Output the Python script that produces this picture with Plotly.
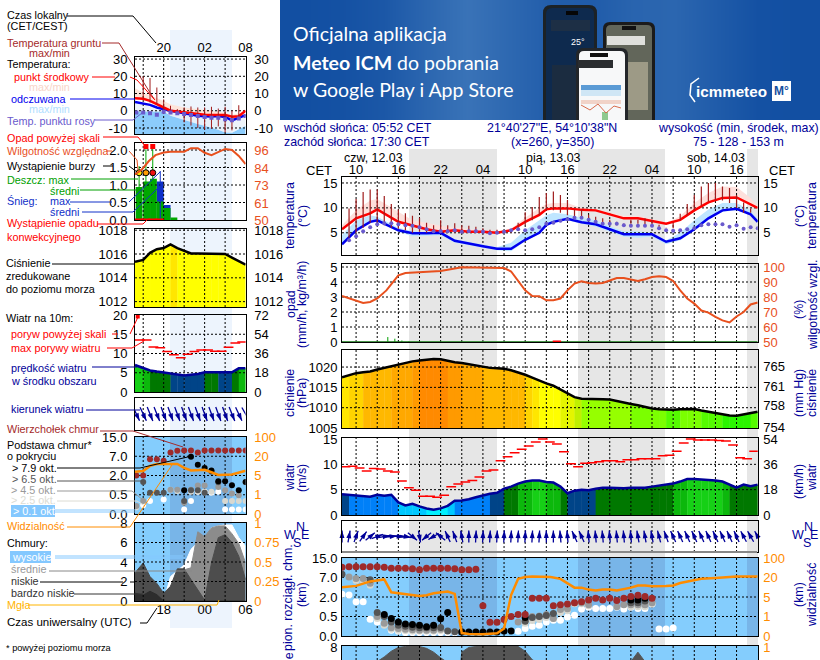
import math
import numpy as np
import plotly.graph_objects as go

W, H = 820, 660

# ---- main chart, hours counted from 00:00 on 12.03 (CET)
temp_hours = [8, 10, 12, 13, 16, 18, 20, 22, 24, 26, 28, 30, 32, 34, 36, 37, 38, 40, 42, 44, 46, 48, 50, 52, 54, 56, 58, 60, 62, 64, 66, 67]
temp_mid = [5.7, 7.9, 8.9, 9.7, 7.2, 6.4, 5.7, 5.2, 5.5, 5.2, 5.2, 5.0, 5.5, 7.2, 8.6, 9.7, 9.9, 9.9, 9.6, 9.5, 8.7, 7.9, 7.9, 7.4, 6.8, 7.6, 9.5, 11.1, 12.0, 12.1, 10.8, 10.0]
temp_max = [6.5, 9.5, 11.5, 11.8, 9.2, 7.5, 7.0, 6.4, 6.0, 5.7, 5.5, 5.3, 5.8, 8.0, 10.0, 10.8, 11, 11, 10, 9.7, 9, 8.4, 8.3, 7.8, 7.0, 8.3, 11, 13, 14.3, 14.2, 12, 10.3]
feel_mid = [2.7, 5.5, 7.2, 7.5, 5.5, 4.9, 4.9, 5.0, 3.4, 2.8, 2.3, 1.8, 1.8, 3.6, 5.0, 6.6, 7.2, 7.8, 7.1, 6.7, 5.7, 4.7, 4.7, 4.7, 3.2, 3.9, 5.7, 7.9, 9.5, 9.8, 8.7, 7.2]
feel_max = [4.5, 7.5, 8.5, 8.2, 6, 5.3, 5.0, 5.0, 3.7, 3.2, 2.7, 2.1, 3, 5.5, 7.5, 8.5, 9, 8.7, 8, 7.5, 6.3, 5.3, 5.3, 5.0, 3.5, 5, 7.5, 9.7, 11, 11, 9.5, 7.7]
feel_min = [2.7, 5, 7, 7.2, 5.2, 4.3, 4.4, 4.5, 3, 2.5, 2, 1.5, 1.3, 3.3, 4.8, 6.4, 7, 7.5, 6.8, 6.2, 5.2, 4.2, 4, 4.2, 2.7, 3.5, 5.4, 7.6, 9.2, 9.5, 8.5, 7]

ground_hours = list(range(9, 67))
ground_top = [9.9, 11.8, 13.2, 13.7, 13.7, 12.4, 10.8, 9.7, 8.9, 8.4, 8.0, 7.0, 6.5, 7.5, 6.5, 6.9, 6.5, 6.4, 6.2, 5.9, 5.6, 5.6, 5.4, 5.4, 7.0, 9.1, 10.2, 12.2, 13.0, 13.3, 12.6, 11.6, 9.7, 9.7, 8.6, 8.2, 7.9, 7.6, 7.2, 6.9, 7.6, 7.6, 7.9, 7.6, 6.6, 5.9, 5.9, 8.8, 10.8, 12.6, 14.3, 15, 15, 14.3, 14, 12.6, 11.1, 9.9]
ground_low = [4, 5, 6, 7, 7, 6.5, 6, 5.8, 5.5, 5, 5.2, 5, 5, 5, 5, 5, 5, 5, 5, 5, 5, 5, 5, 5, 5.5, 6.5, 7.5, 8.5, 9.5, 9.5, 9, 8.5, 8, 8, 7.5, 7.2, 7, 6.8, 6.5, 6.8, 6.8, 6.8, 6.5, 6.2, 6.2, 6, 7, 7.5, 8.5, 9.5, 10.5, 11.3, 11.5, 11.5, 11, 10, 9, 9]
dew_hours = list(range(9, 68))
dew_point = [3.5, 4.3, 5.3, 6.1, 6.7, 6.9, 6.9, 6.7, 6.5, 6.4, 6.1, 5.7, 5.3, 5.3, 5.3, 5.5, 5.2, 5.3, 5.3, 5.2, 4.9, 5.0, 5.2, 5.5, 5.7, 5.5, 5.7, 6.1, 6.8, 7.0, 7.4, 7.7, 8, 8, 7.6, 7.2, 6.8, 6.8, 6.8, 6.5, 6.4, 6.4, 6.4, 6.4, 5.9, 5.5, 5.4, 5.5, 5.7, 5.9, 6.5, 6.7, 6.7, 6.7, 6.2, 6.5, 5.8, 6.1, 5.9]

rh_hours = [8, 10, 11, 12, 13, 14.3, 16, 17, 19, 22, 25, 28, 31, 32, 34, 35, 36, 37, 38, 39, 40, 41, 42, 43, 44, 45, 46, 47, 48, 49, 50, 51, 52, 53, 54, 55, 56, 57, 58, 59, 60, 61, 62, 63, 64, 65, 66, 67]
rh_value = [80.7, 77.8, 76, 76.7, 79, 84.4, 94.4, 96, 96.4, 97.3, 99.8, 99.8, 99.3, 97, 84.4, 80.7, 80.5, 77.8, 77.8, 79, 84.4, 88.9, 90.4, 89.3, 89, 89.3, 91, 92.7, 92.7, 91.6, 90.7, 91.8, 93.3, 93.8, 93.3, 90.7, 84.4, 79, 75.6, 71, 69.6, 66.7, 64.4, 63, 67, 70, 75, 76.3]
rain_hours = [14.5, 15.5, 16.5, 17.5]
rain_value = [0.33, 0.22, 0.1, 0.04]
conv_hours = [38.5]
conv_value = [0.04]

hours = list(range(8, 68))
pressure = [1017.5, 1018, 1018.5, 1018.7, 1018.9, 1019.4, 1019.8, 1020.2, 1020.6, 1021, 1021.4, 1021.6, 1021.8, 1022, 1021.9, 1021.5, 1021.2, 1021, 1020.7, 1020.3, 1020, 1019.8, 1019.7, 1019.6, 1019.2, 1018.7, 1018.1, 1017.4, 1016.6, 1016, 1015.4, 1014.5, 1013.6, 1012.6, 1012.2, 1012.2, 1012.2, 1012.1, 1012, 1011.6, 1011.3, 1010.9, 1010.6, 1010.2, 1009.8, 1009.6, 1009.5, 1009.5, 1009.6, 1009.7, 1009.7, 1009.3, 1009, 1008.6, 1008.4, 1008.1, 1008, 1008.3, 1008.6, 1009]
wind = [4.1, 4.0, 3.8, 3.8, 3.6, 4.0, 3.8, 4.0, 2.5, 1.9, 2.2, 1.7, 1.3, 1.06, 1.3, 1.8, 2.8, 2.85, 3.1, 3.5, 3.9, 4.2, 4.4, 5.2, 5.6, 6.2, 6.6, 6.8, 6.8, 6.5, 6.4, 5.6, 4.3, 4.8, 5, 4.9, 5.2, 5.4, 5.4, 5.3, 5.3, 5.4, 5.4, 5.4, 5.6, 5.8, 6, 6.2, 6.6, 7.1, 7.1, 7, 7, 6.8, 6.6, 6.0, 5.4, 6, 5.7, 6.0]
gust_hours = [h + 0.5 for h in range(8, 67)]
gust = [9.5, 9.6, 9.3, 8.7, 9.2, 9.1, 8.7, 8.5, 6.7, 5.4, 4.9, 3.7, 3.7, 3.5, 3.9, 5.6, 6.1, 6.5, 6.8, 7.5, 8.7, 8.9, 10.7, 11.5, 12.3, 13, 13.6, 14.4, 15, 14.4, 14, 12.5, 10.1, 9.5, 10.2, 10.3, 10.5, 10.7, 10.7, 10.5, 10.9, 10.9, 11.1, 11.1, 11.1, 11.7, 11.8, 12.6, 14.2, 15, 14.8, 14.8, 14.8, 14.7, 14.6, 13.8, 11.3, 11.1, 12.6]
wind_dir = [0, 10, 20, 35, 50, 70, 80, 85, 95, 100, 130, 170, 230, 240, 310, 335, 340, 350, 0, 3, 3, 3, 3, 3, 3, 3, 3, 3, 3, 0, 0, -5, -5, -25, -25, -5, -5, -5, -5, -5, -5, -5, -10, -10, -10, -15, -20, -25, -25, -25, -25, -25, -25, -25, -25, -25, -25, -28, -30, -30]

cloud_top = [3.53, 3.55, 3.55, 3.55, 3.55, 3.55, 3.53, 3.47, 3.47, 3.47, 3.45, 3.4, 3.47, 3.47, 3.47, 3.47, 3.45, 3.4, 3.4, 3.42, 1.55, 0.7, 0.7, 0.85, 1.0, 1.1, 1.1, 1.93, 1.93, 1.93, 1.55, 1.6, 1.64, 1.7, 1.75, 1.84, 1.93, 1.84, 1.93, 1.82, 1.93, 2.03, 2.09, 2.03, 1.93] + [None] * 15
cloud_79 = [None] * 6 + [1.1, .9, .72, .62, .59, .55, .47, .55, .88, 1.2, None, .2, .2, .2, .2, .2, .2, .26, .26, None, .95] + [None] * 14 + [1.84, 1.84, 1.93] + [None] * 16
cloud_65 = [3.17, None, None, None, 2.88, 1.2, 1.0, .72, .55, .5, .45, .42, .42, .42, .43, .25, .22, .22] + [None] * 8 + [.75, .95, 1.0, 1.05, 1.15] + [None] * 10 + [1.7, 1.7, 1.8] + [None] * 16
cloud_45 = [None, 3.03, 2.95, 2.95, 2.7, 1.0, .65, .42, .38, .35, .32, .3, .3, .3, .35, None, None] + [None] * 8 + [.72, .8, 1, 1.03, 1.1, .9, 1.36, 1.4, 1.7, 1.7, 1.6, None, None, None, 1.5, 1.6, 1.6, 1.6, 1.6, 1.7] + [None] * 15
cloud_25 = [None, None, 2.84, 2.84, 2.6, .9, .55, .35, .3, .28, .25, .25, .25, .25, .28] + [None] * 11 + [.65, .8, .85, .95, .9, 1.2, 1.3, 1.65, 1.65, 1.55] + [None] * 5 + [1.5, 1.5, 1.5, 1.65] + [None] * 15
cloud_01 = [2.14, 2.1, 1.76, 1.76, .86, .72, .59, .29, .24, .17, .17, .17, .17, .17, .17, .17, .17] + [None] * 8 + [.24, .38, .5, .55, .72, .81, .81, .97, 1.07, 1.38, 1.47, 1.41, 1.41, 1.41, 1.47, 1.38, 1.47, 1.41, 1.41, 1.64, .36, .36, .41] + [None] * 12
vis_hours = [8, 10, 12, 14, 15, 17, 19, 20, 21, 23, 24, 25, 26, 28, 30, 31, 32, 33, 34, 35, 37.6, 39, 40, 41, 42, 43, 44, 45, 46, 47, 49, 50, 51, 52, 54, 55, 56, 58, 59, 61, 64, 67]
vis_level = [2.5, 2.57, 2.8, 2.9, 2.24, 2.14, 2.05, 2.09, 2.19, 2.28, 2.16, .15, .1, .09, .14, .38, 2.1, 2.93, 3.02, 3.05, 3.02, 2.93, 2.7, 2.48, 2.48, 2.38, 2.34, 2.38, 2.38, 2.34, 2.48, 2.59, 2.59, 2.55, 2.57, 2.59, 2.72, 2.84, 2.93, 2.98, 3.05, 3.05]
octa_low = [0, 0, 0, 0, 0, 6.5, 7.0, 7.6, 8, 8.1, 8.1, 8.1, 7.9, 7.5, 6.9, 6.4, 0, 7.5, 8, 8.1, 8.1, 8.1, 8.1, 8.1, 8.1, 8.1, 7.6, 6.7, 6.3, 0, 0, 0, 0, 0, 0, 0, 0, 0, 0, 0, 0, 6.5, 7.5, 6.5, 0, 0, 0, 0, 0, 0, 0, 0, 0, 0, 0, 0, 0, 0, 0, 0]
fog_hours = [27, 28, 29, 30]
fog_value = [7.1, 7.3, 7.2, 7.2]

# ---- small chart on the left, hours counted from 00:00 (CET)
l_hours = list(range(16, 33))
l_line_hours = [15.8] + list(range(17, 33))
l_temp_mid = [7.2, 7, 5.7, 3.8, 1.9, 0, -0.5, -1, -1.5, -2, -2.3, -2.5, -2.4, -2.4, -3.5, -3.2, 0]
l_temp_max = [13, 10.5, 9, 7.5, 5.7, 3.8, 2.8, 1.9, 1.4, 1, .5, 0, -.5, -1.2, -2.5, -1.5, 0]
l_feel_mid = [5.1, 4.4, 3.4, 1.9, .8, 0, -.7, -1.5, -2.2, -2.9, -3.2, -3.4, -3, -3.6, -5.6, -4.2, -2.5]
l_floor = [-.4, -.4, -.4, -.4, -.4, -2.9, -4.2, -5.5, -6.7, -7.7, -8.7, -9.7, -11, -12.6, -12.8, -10.8, -8.7]
l_ground_hours = list(range(17, 32))
l_ground_top = [20, 19, 13.5, 6.6, 2.9, .95, 1.9, 2.5, 1.9, 1.9, 2.3, 1.3, 2.3, 0, 3.2]
l_ground_low = [7, 4.8, 3.8, -1.9, -1.9, -1.9, -6.7, -8.6, -10, -10.9, -10.5, -9.1, -12.5, -11.4, -5]
l_dew = [-1, -1, -1.4, -2.3, -.6, -1, -1.4, -1.9, -2.5, -3, -3.6, -4, -4, -5, -5.5, -4.5, -3]
l_rh_hours = [15.8, 16.8, 17.8, 18.8, 20, 21, 23, 24, 25, 26, 27, 28, 29, 30, 31, 32]
l_rh = [79.9, 83.1, 88.6, 92.6, 94.4, 94.9, 94.9, 97.2, 97.2, 94.2, 92.6, 94.9, 96.7, 96, 92.1, 86.8]
l_bar_hours = [16.4, 17.5, 18.5, 19.5, 20.5, 21.5]
l_rain = [.94, 1.1, 1.18, .53, .34, .07]
l_snow = [0, 0, 0, 1.1, .43, 0]
l_rain_max_hours = [16.4, 17.4, 18.4]
l_rain_max = [1.54, 2.02, 2.02]
l_snow_max_hours = [19.5]
l_snow_max = [1.4]
l_over_hours = [17.4, 18.4]
l_over = [2.1, 2.1]
l_storm_hours = [16.4, 17.4, 18.4]
l_storm = [1.35, 1.35, 1.35]
l_conv_hours = [16.4, 17.4, 18.4, 19.4]
l_conv = [.02, .02, .02, .02]
l_pressure = [1015.35, 1015.5, 1016.1, 1016.4, 1016.5, 1016.8, 1016.5, 1016.3, 1016.05, 1016.05, 1016.05, 1016.05, 1016.02, 1016, 1015.7, 1015.4, 1015.1]
l_wind = [7, 6.3, 5.6, 5.3, 5.02, 4.8, 4.4, 4.3, 4.5, 4.7, 5.1, 5.1, 4.95, 4.95, 5.1, 6.15, 6.2]
l_gust_hours = [h + 0.5 for h in range(16, 32)]
l_gust = [13.5, 13.5, 11.7, 11.5, 10.5, 9.7, 8.9, 9.8, 10.5, 10.9, 10.9, 10.6, 10.6, 11.6, 12.7, 13]
l_gust_over_hours = [16.2]
l_gust_over = [19.6]
l_dir = [155, 155, 158, 158, 160, 160, 160, 160, 160, 160, 160, 160, 160, 160, 158, 155, 150]
l_cloud_top = [2, 2, 2.85, 2.85, 2.77, 3.2, 3.28, 3.3, 3.3, 3.2, 3.3, 3.3, 3.3, 3.3, 3.3, 3.3, 3.3]
l_cloud_79 = [None] * 7 + [1.23, 2.97, 2.56, 2.39, 2.26, 1.7, 1.7, 1.49, 1.23, 1.66]
l_cloud_65 = [None, 1.66, 1.11, 1.11, 1.11, None, None, .68, 1.23, 1.23, 1.1, 2.2, 1.65, None, None, None, None]
l_cloud_45 = [.41, .68, None, None, None, 1.26, 1.26, .58, 1.26, 1.48, 1.48, None, 1.4, 1.23, 1.06, .97, 1.65]
l_cloud_25 = [.34, None, None, None, None, 1.26, 1.2, None, 1.15, 1.15, 1.15, 1.15, None, .68, .68, .68, .68]
l_cloud_01 = [None, .45, .68, None, .75, None, None, .24, .68, 1.15, 1.15, 1.1, 1.15, .24, .24, .24, .24]
l_vis_hours = [15.8, 17, 18, 19, 22, 23, 24, 26, 27, 28, 30, 32]
l_vis = [2.2, 2.23, 2.5, 2.6, 2.6, 2.4, 2.26, 2.3, 2.17, 2.03, 2.05, 2.25]
l_high = [0, 0, 0, 0, 0, 2.5, 3.1, 3.7, 5.3, 6, 6.3, 7.5, 7.7, 7.8, 7.8, 6.5, 5.6]
l_mid = [0, 0, 0, 0, 0, 1.5, 2.9, 3.2, 3.4, 7.1, 6.6, 7.5, 7.7, 7.7, 6.9, 5.9, 3.9]
l_low = [2.9, 3.9, 2.5, 1.8, .8, 1.5, 3.3, 3.3, 2.2, 1.2, .1, 3.9, 6.5, 6.8, 6, 4.6, 2.2]
l_vlow = [.8, .6, 1, .65, 0, 0, 0, 0, 0, 0, 0, 0, 0, 0, 0, 0, 0]
l_fog_hours = [28, 29, 30, 31]
l_fog = [1.2, 1.2, 1.2, 1.2]

# tick labels
right_xlabels = ["10", "16", "22", "04", "10", "16", "22", "04", "10", "16"]
right_xticks = [10, 16, 22, 28, 34, 40, 46, 52, 58, 64]
cloud_labels = ["0.0", "0.5", "2.0", "7.0", "15.0"]
vis_labels = ["0", "1", "5", "20", "100"]
banner_shade = [0, 0.05, 0.2, 0.55, 0.85, 0.6, 0.35, 0.3, 0.5, 0.55, 0.3, 0.05, 0]

NAVY = "#000099"
RED = "#ff0000"
BROWN = "#a52a2a"
SLATE = "#6a5acd"
RH = "#e8501e"
ORANGE = "#ff8c00"
SKY = "#84cdfd"
NIGHT_SKY = "#78b5e8"

fig = go.Figure()
layout = dict(
    template="none",
    width=W, height=H, margin=dict(l=0, r=0, t=0, b=0, pad=0), showlegend=False, hovermode=False,
    paper_bgcolor="white", plot_bgcolor="rgba(0,0,0,0)", barmode="overlay",
    font=dict(family="Liberation Sans", size=13, color="black"),
)
# pixel axes for the banner, labels, leaders
layout["xaxis"] = dict(domain=[0, 1], range=[0, W], showticklabels=False, ticks="", showline=False, showgrid=False, zeroline=False, automargin=False)
layout["yaxis"] = dict(domain=[0, 1], range=[H, 0], showticklabels=False, ticks="", showline=False, showgrid=False, zeroline=False, automargin=False)
shapes = []
notes = []


def panel(n, box, xr, yr, yticks, ytext=None, right=None, xticks=None, xtext=None, xside="top", lgap=4, rgap=5, xstand=0):
    x0, x1, top, bot = box
    layout[f"xaxis{n}"] = dict(
        domain=[x0 / W, x1 / W], range=xr, anchor=f"y{n}", side=xside, showgrid=False, zeroline=False, automargin=False,
        showline=True, mirror=True, linecolor="black", linewidth=1, tickvals=xticks or [], ticktext=xtext or [],
        ticks="", ticklabelstandoff=xstand, tickfont=dict(size=13),
    )
    layout[f"yaxis{n}"] = dict(
        domain=[1 - bot / H, 1 - top / H], range=yr, anchor=f"x{n}", showgrid=False, zeroline=False, automargin=False,
        showline=True, mirror=True, linecolor="black", linewidth=1, tickvals=yticks, ticktext=ytext or [str(t) for t in yticks],
        ticks="outside", tickcolor="rgba(0,0,0,0)", ticklen=lgap, tickfont=dict(size=13),
    )
    if right:
        vals, labels, rr, col = right
        layout[f"yaxis{n + 50}"] = dict(
            domain=[1 - bot / H, 1 - top / H], range=rr, anchor=f"x{n}", overlaying=f"y{n}", side="right", automargin=False,
            showgrid=False, zeroline=False, tickvals=vals, ticktext=labels, ticks="outside",
            tickcolor="rgba(0,0,0,0)", ticklen=rgap, tickfont=dict(size=13, color=col),
        )
        fig.add_trace(go.Scatter(x=[None], y=[None], xaxis=f"x{n}", yaxis=f"y{n + 50}", mode="lines"))


def grid(n, xs, ys, xr, yr):
    gx, gy = [], []
    for v in xs:
        gx += [v, v, None]
        gy += [yr[0], yr[1], None]
    for v in ys:
        gx += [xr[0], xr[1], None]
        gy += [v, v, None]
    fig.add_trace(go.Scatter(x=gx, y=gy, xaxis=f"x{n}", yaxis=f"y{n}", mode="lines",
                             line=dict(color="black", width=1, dash="2px,2px")))


def line(n, x, y, color, width=2.5, axis=None):
    fig.add_trace(go.Scatter(x=x, y=y, xaxis=f"x{n}", yaxis=f"y{axis or n}", mode="lines",
                             line=dict(color=color, width=width)))


def dots(n, x, y, color, size=7, symbol="circle", lw=0, lc="black", axis=None):
    fig.add_trace(go.Scatter(x=x, y=y, xaxis=f"x{n}", yaxis=f"y{axis or n}", mode="markers",
                             marker=dict(color=color, size=size, symbol=symbol, line=dict(width=lw, color=lc))))


def band(n, x, lo, hi, color):
    fig.add_trace(go.Scatter(x=x, y=lo, xaxis=f"x{n}", yaxis=f"y{n}", mode="lines", line=dict(width=0)))
    fig.add_trace(go.Scatter(x=x, y=hi, xaxis=f"x{n}", yaxis=f"y{n}", mode="lines", line=dict(width=0),
                             fill="tonexty", fillcolor=color))


def sticks(n, x, lo, hi, color, width=1):
    sx, sy = [], []
    for a, b, c in zip(x, lo, hi):
        sx += [a, a, None]
        sy += [b, c, None]
    line(n, sx, sy, color, width)


def area(n, x, y, color, edge=None):
    fig.add_trace(go.Scatter(x=x, y=y, xaxis=f"x{n}", yaxis=f"y{n}", mode="lines", fill="tozeroy", fillcolor=color,
                             line=dict(color=edge or color, width=1)))


def bars(n, x, y, color, width=1.0):
    fig.add_trace(go.Bar(x=x, y=y, xaxis=f"x{n}", yaxis=f"y{n}", width=width, marker=dict(color=color, line=dict(width=0))))


PRESS_STEPS = [1008.5, 1009.5, 1011, 1012.5, 1013.5, 1015, 1016.6, 1017.5, 1018.5, 1020, 1021, 1021.5]
PRESS_COLORS = ["#2bf500", "#55fb00", "#7bff00", "#96ff00", "#c0f000", "#e4f500", "#ffff00", "#ffe600", "#ffd400", "#ffb800", "#ffa800", "#ff9a00", "#ff8a00"]
WIND_STEPS = [1.5, 2.5, 4.05, 5.0, 6.1, 6.75]
WIND_COLORS = ["#00f0ff", "#00c8ff", "#0080f8", "#004488", "#007800", "#0cb80c", "#16d016"]


def stepped(n, x, y, steps, colors):
    # one filled piece per time step, coloured by the value at its start
    for i in range(len(x) - 1):
        col = colors[int(np.searchsorted(steps, y[i]))]
        fig.add_trace(go.Scatter(x=[x[i], x[i + 1] + 0.05], y=[y[i], y[i + 1]], xaxis=f"x{n}", yaxis=f"y{n}",
                                 mode="none", fill="tozeroy", fillcolor=col))


def arrows(n, x, dirs, length, px_x, px_y):
    # arrows are centred on the panel middle; px_x / px_y = pixels per axis unit
    sx, sy, hx, hy = [], [], [], []
    for h, d in zip(x, dirs):
        dx = length / 2 * math.sin(math.radians(d)) / px_x
        dy = length / 2 * math.cos(math.radians(d)) / px_y
        sx += [h - dx, h + dx, None]
        sy += [0.5 - dy, 0.5 + dy, None]
        hx.append(h + dx)
        hy.append(0.5 + dy)
    fig.add_trace(go.Scatter(x=sx, y=sy, xaxis=f"x{n}", yaxis=f"y{n}", mode="lines", cliponaxis=False,
                             line=dict(color=NAVY, width=1.3)))
    fig.add_trace(go.Scatter(x=hx, y=hy, xaxis=f"x{n}", yaxis=f"y{n}", mode="markers", cliponaxis=False,
                             marker=dict(color=NAVY, size=8, symbol="arrow", angle=list(dirs), line=dict(width=0))))


def cloud_dots(n, x, lists, top, vis_x, vis_y, size=7):
    for vals, col in zip(lists, ["white", "#d8d8d0", "#9a9a9a", "#555555", "black"]):
        dots(n, x, vals, col, size)
    dots(n, x, top, "#9e2a2a", size)
    line(n, vis_x, vis_y, ORANGE, 2.5)


def rect(x0, y0, x1, y1, color, layer="below", lw=0, lc=None):
    shapes.append(dict(type="rect", xref="x", yref="y", x0=x0, y0=y0, x1=x1, y1=y1, fillcolor=color, layer=layer,
                       line=dict(width=lw, color=lc or color)))


def rrect(x0, y0, x1, y1, r, color, lc=None, lw=0):
    # rounded top corners, square bottom: the phones run off the banner
    p = f"M {x0} {y1} L {x0} {y0 + r} Q {x0} {y0} {x0 + r} {y0} L {x1 - r} {y0} Q {x1} {y0} {x1} {y0 + r} L {x1} {y1} Z"
    shapes.append(dict(type="path", xref="x", yref="y", path=p, fillcolor=color, layer="above", line=dict(width=lw, color=lc or color)))


def leader(color, pts, width=1):
    p = "M " + " L ".join(f"{a} {b}" for a, b in pts)
    shapes.append(dict(type="path", xref="x", yref="y", path=p, layer="above", line=dict(width=width, color=color)))


def label(text, x, y, color="black", size=10.8, anchor="left", angle=0, family=None, vanchor="middle"):
    notes.append(dict(text=text, x=x, y=y, xref="x", yref="y", xanchor=anchor, yanchor=vanchor, showarrow=False, textangle=angle,
                      borderpad=0, font=dict(color=color, size=size, family=family or "Liberation Sans")))


# ---- banner
fig.add_trace(go.Heatmap(z=[banner_shade, banner_shade], x=np.linspace(280, 820, len(banner_shade) + 1).tolist(), y=[0, 60, 120],
                         xaxis="x", yaxis="y", showscale=False, zmin=0, zmax=1,
                         colorscale=[[0, "#124fa2"], [1, "#4079bb"]], hoverinfo="skip", xgap=0, ygap=0, zsmooth="best"))
rrect(603, 22, 655, 120, 7, "#1b1b1b")
rrect(606, 25, 652, 120, 5, "#62665a")
rect(626, 62, 648, 110, "#9d9a86", "above")
rect(607, 36, 645, 45, "#dfe0dc", "above")
rect(622, 26, 636, 30, "#111111", "above")
rrect(543, 5, 597, 120, 8, "#1c2226")
rrect(546, 8, 594, 120, 6, "#0e2a4e")
rect(566, 11, 578, 15, "#060606", "above")
rect(551, 20, 590, 31, "#1d2f45", "above")
rect(552, 65, 590, 120, "#1b2c40", "above")
rrect(576, 48, 628, 120, 7, "#23262a")
rrect(579, 51, 625, 120, 5, "#f7f8f9")
rect(590, 53, 608, 57, "#111111", "above")
rect(578, 60, 613, 68, "#2a2d30", "above")
rect(581, 85, 621, 90, "#5b9bd5", "above")
rect(581, 90, 621, 96, "#cfe6f5", "above")
rect(581, 100, 621, 104, "#f1d3c8", "above")
rect(602, 112, 608, 120, "#8fc98f", "above")
leader("#d86a4a", [(581, 105), (590, 110), (598, 104), (606, 113), (614, 106), (621, 108)], 1)
rect(772, 81, 791, 101, "white", "above")
leader("white", [(699, 78), (691, 84), (690, 95), (695, 102)], 1.5)
label("Oficjalna aplikacja", 292, 33, "white", 19.5, family="Lato")
label("<b>Meteo ICM</b> do pobrania", 292, 62, "white", 19.5, family="Lato")
label("w Google Play i App Store", 292, 89, "white", 19.5, family="Lato")
label("25°", 578, 42, "white", 9, "center")
label("<b>icmmeteo</b>", 695, 91, "white", 15.2)
label("<b>M°</b>", 781.5, 91, "#1850a0", 12, "center")

# ---- backgrounds
for a, b in [(409, 497), (578, 665), (747, 758)]:
    rect(a, 149, b, H, "#e6e6e6")
rect(170, 30, 232, 628, "#edf4fd")
rect(342, 558, 758, 636, SKY)
rect(342, 646, 758, H, SKY)
for a, b in [(409, 497), (578, 665), (747, 758)]:
    rect(a, 558, b, 636, NIGHT_SKY)
rect(135, 437, 246, 514, SKY)
rect(135, 523, 246, 601, SKY)
rect(170, 437, 232, 514, NIGHT_SKY)
rect(170, 523, 232, 601, NIGHT_SKY)

# ---- main panels
RX = [8, 67]
XG = list(range(10, 67, 3))
RB = 342, 757.7

# temperature
yr = [0.54, 16.2]
panel(21, (*RB, 177, 255), RX, yr, [5, 10, 15], right=([5, 10, 15], ["5", "10", "15"], yr, "black"),
      xticks=right_xticks, xtext=right_xlabels, lgap=1, rgap=2, xstand=-3)
band(21, temp_hours, temp_mid, temp_max, "#fde0dc")
band(21, temp_hours, feel_min, feel_max, "#bfe6ff")
grid(21, XG, [5, 10, 15], RX, yr)
line(21, temp_hours, temp_mid, RED)
line(21, temp_hours, feel_mid, "#0000ee")
sticks(21, ground_hours, ground_low, ground_top, "#a01c1c", 1.2)
dots(21, dew_hours, dew_point, SLATE, 4)

# precipitation + humidity
yr = [0, 5.2]
rr = [50, 102]
panel(22, (*RB, 264, 342), RX, yr, [0, 1, 2, 3, 4, 5], right=([50, 60, 70, 80, 90, 100], ["50", "60", "70", "80", "90", "100"], rr, RH), lgap=1, rgap=2)
grid(22, XG, [1, 2, 3, 4, 5], RX, yr)
sticks(22, rain_hours, [0] * 4, rain_value, "#00a000", 1)
line(22, RX, [0.02, 0.02], "#208020", 1)
dots(22, conv_hours, conv_value, RED, 6, "line-ew", 2, RED)
line(22, rh_hours, rh_value, RH, 2, axis=72)

# pressure
yr = [1005, 1024.2]
rr = [753.9, 768.3]
panel(23, (*RB, 350, 428), RX, yr, [1005, 1010, 1015, 1020], right=([754, 758, 761.5, 765.2], ["754", "758", "761", "765"], rr, "black"), lgap=1, rgap=2)
stepped(23, hours, pressure, PRESS_STEPS, PRESS_COLORS)
grid(23, XG, [1010, 1015, 1020], RX, yr)
line(23, hours, pressure, "black", 2.5)

# wind
yr = [0, 15.2]
rr = [0, 54.7]
panel(24, (*RB, 438, 515), RX, yr, [0, 5, 10, 15], right=([0, 18, 36, 54], ["0", "18", "36", "54"], rr, "black"), lgap=1, rgap=2)
stepped(24, hours, wind, WIND_STEPS, WIND_COLORS)
grid(24, XG, [5, 10], RX, yr)
line(24, hours, wind, NAVY, 2.5)
dots(24, gust_hours, gust, RED, 7, "line-ew", 1.5, RED)

# wind direction
panel(25, (*RB, 521, 552), RX, [0, 1], [], lgap=1)
grid(25, XG, [], RX, [0, 1])
arrows(25, hours, wind_dir, 12, 7.05, 31)
leader("#888888", [(342, 552), (757, 552)], 2)

# clouds and visibility
yr = [0, 4]
panel(26, (*RB, 558, 636), RX, yr, [0, 1, 2, 3, 4], cloud_labels, right=([0, 1, 2, 3, 4], vis_labels, yr, ORANGE), lgap=1, rgap=2)
grid(26, XG, [1, 2, 3], RX, yr)
cloud_dots(26, hours, [cloud_01, cloud_25, cloud_45, cloud_65, cloud_79], cloud_top, vis_hours, vis_level)

# cloud cover, runs off the bottom of the page
yr = [6.67, 8.15]
panel(27, (*RB, 646, 660), RX, yr, [8], right=([8], ["1"], yr, ORANGE), lgap=1, rgap=2)
area(27, hours, octa_low, "#555555")
grid(27, XG, [], RX, yr)
bars(27, fog_hours, fog_value, "#ffb400", 0.32)

# ---- left panels
LX = [15.8, 32]
LG = [17, 20, 23, 26, 29]
LB = 135, 245.6

yr = [-13.5, 31.2]
panel(11, (*LB, 57, 134), LX, yr, [-10, 0, 10, 20, 30], right=([-10, 0, 10, 20, 30], ["-10", "0", "10", "20", "30"], yr, "black"),
      xticks=[20, 26, 32], xtext=["20", "02", "08"], xstand=-1)
band(11, l_line_hours, [yr[0]] * 17, l_floor, "rgba(120,195,252,0.85)")
band(11, l_line_hours, l_floor, l_feel_mid, "rgba(225,235,245,0.6)")
band(11, l_line_hours, l_temp_mid, l_temp_max, "#fde4da")
grid(11, LG, [-10, 0, 10, 20, 30], LX, yr)
line(11, l_line_hours, l_feel_mid, "#0000ee", 2.5)
line(11, l_line_hours, l_temp_mid, RED, 2.5)
sticks(11, l_ground_hours, l_ground_low, l_ground_top, "#a01c1c", 1)
dots(11, l_hours, l_dew, SLATE, 4, "square")

yr = [0, 2.2]
rr = [50, 100.6]
panel(12, (*LB, 143, 220), LX, yr, [0, .5, 1, 1.5, 2], ["0.0", "0.5", "1.0", "1.5", "2.0"],
      right=([50, 61, 73, 84, 96], ["50", "61", "73", "84", "96"], rr, RH))
bars(12, l_bar_hours, l_snow, "#1030c8")
bars(12, l_bar_hours, l_rain, "#00a800")
grid(12, LG, [.5, 1, 1.5, 2], LX, yr)
sticks(12, l_rain_max_hours, [0] * 3, l_rain_max, "#00a800", 1)
sticks(12, l_snow_max_hours, [0], l_snow_max, "#1030c8", 1)
line(12, l_rh_hours, l_rh, RH, 2, axis=62)
dots(12, l_over_hours, l_over, RED, 5, "square")
dots(12, l_storm_hours, l_storm, ["#ffe800", "#ff9c00", "#f01010"], 6, lw=1)
dots(12, l_conv_hours, l_conv, RED, 6, "line-ew", 1.5, RED)

yr = [1011.55, 1018.1]
panel(13, (*LB, 229, 307), LX, yr, [1012, 1014, 1016, 1018], right=([1012, 1014, 1016, 1018], ["1012", "1014", "1016", "1018"], yr, "black"))
stepped(13, l_line_hours, l_pressure, PRESS_STEPS, PRESS_COLORS)
grid(13, LG, [1012, 1014, 1016, 1018], LX, yr)
line(13, l_line_hours, l_pressure, "black", 2.5)

yr = [0, 20]
rr = [0, 72]
panel(14, (*LB, 315, 392), LX, yr, [0, 5, 10, 15, 20], right=([0, 18, 36, 54, 72], ["0", "18", "36", "54", "72"], rr, "black"))
stepped(14, l_line_hours, l_wind, WIND_STEPS, WIND_COLORS)
grid(14, LG, [5, 10, 15], LX, yr)
line(14, l_line_hours, l_wind, NAVY, 2.5)
dots(14, l_gust_hours, l_gust, RED, 7, "line-ew", 1.5, RED)
dots(14, l_gust_over_hours, l_gust_over, RED, 4, "square")

panel(15, (*LB, 398, 430), LX, [0, 1], [])
grid(15, LG, [], LX, [0, 1])
arrows(15, l_hours, l_dir, 15, 6.83, 32)

yr = [0, 4]
panel(16, (*LB, 437, 514), LX, yr, [0, 1, 2, 3, 4], cloud_labels, right=([0, 1, 2, 3, 4], vis_labels, yr, ORANGE))
grid(16, LG, [1, 2, 3], LX, yr)
cloud_dots(16, l_hours, [l_cloud_01, l_cloud_25, l_cloud_45, l_cloud_65, l_cloud_79], l_cloud_top, l_vis_hours, l_vis, size=6)

yr = [0, 8]
panel(17, (*LB, 523, 601), LX, yr, [0, 2, 4, 6, 8], right=([0, 2, 4, 6, 8], ["0", "0.25", "0.5", "0.75", "1"], yr, ORANGE),
      xticks=[20, 26, 32], xtext=["18", "00", "06"], xside="bottom", xstand=-4)
area(17, l_line_hours, l_high, "white")
area(17, l_line_hours, l_mid, "#8c8c8c")
area(17, l_line_hours, l_low, "#4d4d4d")
area(17, l_line_hours, l_vlow, "#2d2d2d")
grid(17, LG, [2, 4, 6], LX, yr)
bars(17, l_fog_hours, l_fog, "#ffb400", 0.4)

# ---- legend column
label("Czas lokalny", 6, 15)
label("(CET/CEST)", 6, 26)
label("Temperatura gruntu", 6, 43, BROWN)
label("max/min", 28, 53, BROWN)
label("Temperatura:", 6, 64)
label("punkt środkowy", 13, 77, RED)
label("max/min", 28, 87, "#f8d4c8")
label("odczuwana", 10, 99, "#0000ee")
label("max/min", 28, 109, "#b0e0ff")
label("Temp. punktu rosy", 6, 121, SLATE)
label("Opad powyżej skali", 6, 138, RED)
label("Wilgotność względna", 6, 151, RH)
label("Wystąpienie burzy", 6, 166)
label("Deszcz: max", 6, 180, "#00a000")
label("średni", 49, 191, "#00a000")
label("Śnieg:", 6, 201, "#1030c8")
label("max", 49, 201, "#1030c8")
label("średni", 49, 212, "#1030c8")
label("Wystąpienie opadu", 6, 223, RED)
label("konwekcyjnego", 6, 237, RED)
label("Ciśnienie", 5, 263)
label("zredukowane", 5, 276)
label("do poziomu morza", 5, 289)
label("Wiatr na 10m:", 5, 318)
label("poryw powyżej skali", 10, 334, RED)
label("max porywy wiatru", 10, 348, RED)
label("prędkość wiatru", 10, 368, NAVY)
label("w środku obszaru", 10, 381, NAVY)
label("kierunek wiatru", 10, 409, NAVY)
label("Wierzchołek chmur", 6, 429, BROWN)
label("Podstawa chmur*", 6, 445)
label("o pokryciu", 6, 456)
label("> 7.9 okt.", 11, 468)
label("> 6.5 okt.", 11, 479, "#555555")
label("> 4.5 okt.", 10, 490, "#999999")
label("> 2.5 okt.", 10, 500, "#dcdcd4")
rect(11, 505, 55, 517, "#84c8ff", "below")
label("> 0.1 okt.", 12, 511, "white")
label("Widzialność", 6, 526, ORANGE)
label("Chmury:", 6, 543)
rect(10, 551, 51, 563, "#84c8ff", "below")
label("wysokie", 11, 557, "white")
label("średnie", 10, 569, "#999999")
label("niskie", 10, 581, "#333333")
label("bardzo niskie", 10, 593, "#333333")
label("Mgła", 6, 605, "#ffb400")
label("Czas uniwersalny (UTC)", 6, 622, size=11.5)
label("* powyżej poziomu morza", 5, 648, size=9.2)

for col, pts, w in [
    ("black", [(67, 16), (133, 16), (156, 43)], 1),
    (BROWN, [(102, 43), (119, 43), (154, 99)], 1),
    (RED, [(92, 77), (115, 77)], 1),
    (RED, [(130, 77), (137, 80), (155, 100)], 1),
    ("#0000ee", [(70, 99), (135, 99)], 1),
    (SLATE, [(95, 120), (133, 120), (142, 113)], 1),
    (RED, [(103, 137), (138, 137), (146, 147)], 1),
    (RH, [(106, 151), (112, 151)], 1),
    (RH, [(129, 151), (137, 160), (138, 170)], 1),
    ("black", [(103, 166), (113, 166)], 1),
    ("black", [(129, 166), (137, 172)], 1),
    ("#00a000", [(71, 179), (138, 179)], 1),
    ("#00a000", [(80, 190), (143, 190)], 1),
    ("#1030c8", [(70, 202), (112, 202)], 1),
    ("#1030c8", [(129, 202), (160, 172)], 1),
    ("#1030c8", [(82, 212), (133, 212), (157, 189)], 1),
    (RED, [(97, 224), (143, 224), (147, 220)], 1),
    ("black", [(52, 264), (135, 264)], 1),
    (RED, [(112, 334), (118, 334)], 1),
    (RED, [(130, 334), (138, 317)], 1),
    (RED, [(107, 348), (132, 348), (144, 341)], 1),
    (NAVY, [(92, 367), (137, 367)], 1),
    (NAVY, [(86, 410), (140, 410)], 1),
    (BROWN, [(100, 431), (133, 431), (183, 447)], 1),
    ("black", [(57, 468), (140, 468), (192, 456)], 1),
    ("#555555", [(57, 481), (143, 481)], 1),
    ("#999999", [(57, 491), (132, 491), (143, 500)], 1),
    ("#dcdcd4", [(57, 501), (137, 501), (145, 506)], 1),
    ("#84c8ff", [(55, 510), (136, 510)], 1),
    ("#84c8ff", [(55, 512), (136, 512)], 1),
    (ORANGE, [(67, 527), (130, 527), (172, 465)], 1),
    ("#84c8ff", [(55, 556), (185, 556)], 1),
    ("#84c8ff", [(55, 558), (185, 558)], 1),
    ("#888888", [(49, 571), (192, 571)], 1),
    ("black", [(40, 582), (123, 582)], 1),
    ("black", [(130, 582), (135, 582)], 1),
    ("#333333", [(74, 594), (143, 594)], 1),
    ("#ffb400", [(28, 605), (217, 605), (219, 600)], 1),
    ("black", [(140, 623), (147, 623), (157, 608)], 1),
]:
    leader(col, pts, w)

# ---- header of the main chart
label("wschód słońca: 05:52 CET", 282, 128, NAVY, 12.4)
label("zachód słońca: 17:30 CET", 283, 142, NAVY, 12.4)
label("21°40'27\"E, 54°10'38\"N", 552, 128, NAVY, 12.4, "center")
label("(x=260, y=350)", 552, 142, NAVY, 12.4, "center")
label("wysokość (min, środek, max)", 738, 128, NAVY, 12.4, "center")
label("75 - 128 - 153 m", 738, 142, NAVY, 12.4, "center")
label("czw, 12.03", 373, 158, "black", 12.4, "center")
label("pią, 13.03", 553, 158, "black", 12.4, "center")
label("sob, 14.03", 716, 158, "black", 12.4, "center")
label("CET", 319, 170, "black", 13, "center")
label("CET", 782, 170, "black", 13, "center")

for text, x, y in [
    ("temperatura", 290, 216), ("(°C)", 303, 216), ("opad", 291, 304), ("(mm/h, kg/m³/h)", 302, 305),
    ("ciśnienie", 290, 393), ("(hPa)", 302, 393), ("wiatr", 290, 478), ("(m/s)", 302, 478),
    ("pion. rozciągł. chm.", 288, 598), ("(km)", 302, 595),
    ("(°C)", 800, 216), ("temperatura", 812, 216), ("(%)", 799, 310), ("wilgotność wzgl.", 813, 305),
    ("(mm Hg)", 799, 393), ("ciśnienie", 812, 393), ("(km/h)", 799, 482), ("wiatr", 812, 478),
    ("(km)", 799, 595), ("widzialność", 812, 595),
]:
    label(text, x, y, NAVY, 12.4, "center", -90)
label("zachmurzenie", 288, 652, NAVY, 12.4, "center", -90, vanchor="top")

for x, y, t in [(300, 527, "N"), (290, 535, "W"), (305, 535, "E"), (297, 543, "S"),
                (808, 527, "N"), (798, 535, "W"), (814, 535, "E"), (807, 543, "S")]:
    label(t, x, y, NAVY, 12.5, "center")

layout["shapes"] = shapes
layout["annotations"] = notes
fig.update_layout(**layout)
# the browser's default 8px body margin would push the whole page down and right
fig.write_html("out.html", config=dict(displayModeBar=False),
               post_script="document.body.style.margin='0';document.body.style.overflow='hidden';")
